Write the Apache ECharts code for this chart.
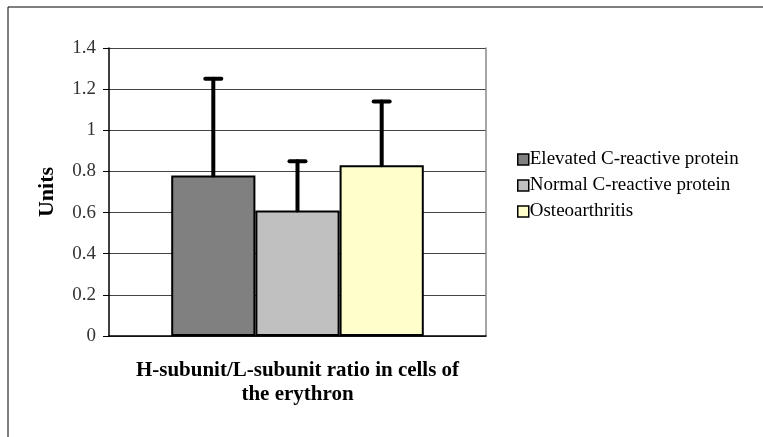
<!DOCTYPE html>
<html>
<head>
<meta charset="utf-8">
<script src="https://cdn.jsdelivr.net/npm/echarts@6/dist/echarts.min.js"></script>
<style>
  html, body { margin: 0; padding: 0; background: #fff; }
  #chart { width: 763px; height: 437px; }
</style>
</head>
<body>
<div id="chart"></div>
<script>
var categories = ['H-subunit/L-subunit ratio in cells of\nthe erythron'];
var seriesNames = ['Elevated C-reactive protein', 'Normal C-reactive protein', 'Osteoarthritis'];
var means = [0.78, 0.61, 0.83];
var errorTops = [1.25, 0.85, 1.14];
var barColors = ['#808080', '#c0c0c0', '#ffffcc'];
var yTicks = [0, 0.2, 0.4, 0.6, 0.8, 1, 1.2, 1.4];

var serif = '"Liberation Serif", "DejaVu Serif", serif';
var catGap = 0.33;

var myChart = echarts.init(document.getElementById('chart'));

var series = [];
for (var i = 0; i < seriesNames.length; i++) {
    series.push({
        name: seriesNames[i],
        type: 'bar',
        barGap: '0%',
        barCategoryGap: (catGap * 100) + '%',
        itemStyle: {
            color: barColors[i],
            borderColor: '#000',
            borderWidth: 2
        },
        data: [means[i]]
    });
}

// error bars, one item per group, only the upper half
var errData = [];
for (var j = 0; j < means.length; j++) {
    errData.push([0, j, means[j], errorTops[j]]);
}
series.push({
    name: 'err',
    type: 'custom',
    z: 5,
    silent: true,
    renderItem: function (params, api) {
        var band = api.size([1, 0])[0];
        var bw = band * (1 - catGap) / seriesNames.length;
        var idx = api.value(1);
        var base = api.coord([api.value(0), api.value(2)]);
        var top = api.coord([api.value(0), api.value(3)]);
        var x = base[0] + (idx - (seriesNames.length - 1) / 2) * bw;
        var st = { stroke: '#000', lineWidth: 4, lineCap: 'round' };
        return {
            type: 'group',
            children: [
                { type: 'line', shape: { x1: x, y1: base[1], x2: x, y2: top[1] }, style: st },
                { type: 'line', shape: { x1: x - 8, y1: top[1], x2: x + 8, y2: top[1] }, style: st }
            ]
        };
    },
    data: errData
});

var option = {
    backgroundColor: '#fff',
    animation: false,
    graphic: [{
        type: 'rect',
        shape: { x: 8, y: 7, width: 900, height: 600 },
        style: { fill: null, stroke: '#000', lineWidth: 1 },
        silent: true
    }],
    legend: {
        data: seriesNames,
        orient: 'vertical',
        left: 512,
        top: 145,
        icon: 'rect',
        itemWidth: 11,
        itemHeight: 11,
        itemGap: 7,
        textStyle: { fontFamily: serif, fontSize: 19, color: '#000', padding: [0, 0, 0, -4] },
        itemStyle: { borderColor: '#000', borderWidth: 1.5 }
    },
    grid: { left: 109, right: 277, top: 48, bottom: 101 },
    xAxis: {
        type: 'category',
        data: categories,
        axisLine: { lineStyle: { color: '#000', width: 1.5 } },
        axisTick: { show: false },
        axisLabel: {
            fontFamily: serif, fontSize: 21, fontWeight: 'bold', color: '#000',
            lineHeight: 24, margin: 23
        }
    },
    yAxis: [{
        type: 'value',
        min: yTicks[0],
        max: yTicks[yTicks.length - 1],
        interval: 0.2,
        name: 'Units',
        nameLocation: 'middle',
        nameGap: 51,
        nameRotate: 90,
        nameTextStyle: { fontFamily: serif, fontSize: 22, fontWeight: 'bold', color: '#000' },
        axisLine: { show: true, lineStyle: { color: '#000', width: 1.5 } },
        axisTick: { show: true, length: 6, lineStyle: { color: '#000' } },
        axisLabel: { fontFamily: serif, fontSize: 19, color: '#333', margin: 13 },
        splitLine: { lineStyle: { color: '#444', width: 1 } }
    }, {
        type: 'value',
        min: yTicks[0],
        max: yTicks[yTicks.length - 1],
        interval: 0.2,
        position: 'right',
        axisLine: { show: true, lineStyle: { color: '#888', width: 1.5 } },
        axisTick: { show: false },
        axisLabel: { show: false },
        splitLine: { show: false }
    }],
    series: series
};

myChart.setOption(option);

window.onresize = function () {
    myChart.resize();
};
</script>
</body>
</html>
